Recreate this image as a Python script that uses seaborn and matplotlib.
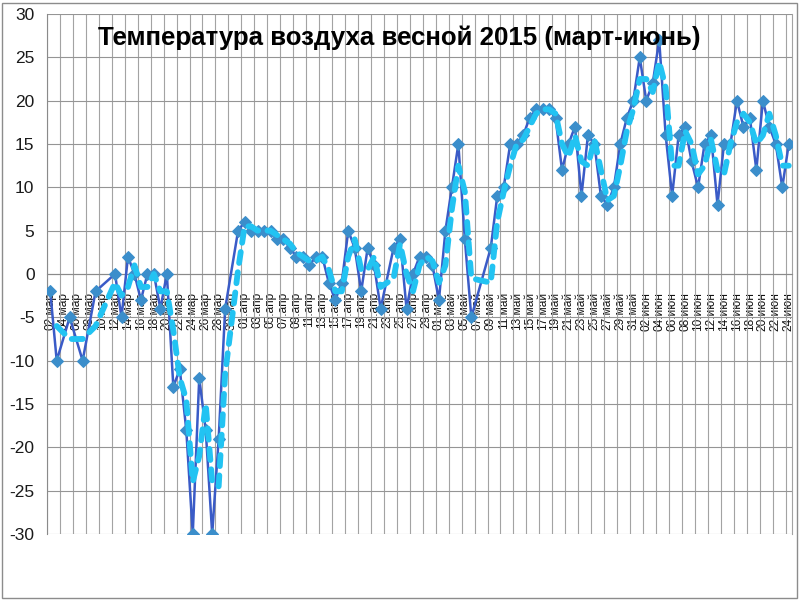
import numpy as np
import pandas as pd
import matplotlib
matplotlib.use("Agg")
import matplotlib.pyplot as plt
import matplotlib.dates as mdates
from matplotlib import font_manager as fm
from matplotlib.patches import Rectangle
from matplotlib.ticker import FixedLocator
import seaborn as sns

# ---------------- data ----------------
mar_days = [2, 3, 5, 7, 9, 12, 13, 14, 15, 16, 17, 18, 19, 20, 21, 22, 23, 24, 25, 26, 27, 28, 29, 31]
mar_temps = [-2, -10, -5, -10, -2, 0, -5, 2, 0, -3, 0, 0, -4, 0, -13, -11, -18, -30, -12, -18, -30, -19, -4, 5]

apr_days = [1, 2, 3, 4, 5, 6, 7, 8, 9, 10, 11, 12, 13, 14, 15, 16, 17, 18, 19, 20, 21, 22, 24, 25, 26, 27, 28, 29, 30]
apr_temps = [6, 5, 5, 5, 5, 4, 4, 3, 2, 2, 1, 2, 2, -1, -3, -1, 5, 3, -2, 3, 1, -4, 3, 4, -4, 0, 2, 2, 1]

may_days = [1, 2, 3, 4, 5, 6, 9, 10, 11, 12, 13, 14, 15, 16, 17, 18, 19, 20, 21, 22, 23, 24, 25, 26, 27, 28, 29, 30, 31]
may_temps = [-3, 5, 10, 15, 4, -5, 3, 9, 10, 15, 15, 16, 18, 19, 19, 19, 18, 12, 15, 17, 9, 16, 15, 9, 8, 10, 15, 18, 20]

jun_days = [1, 2, 3, 4, 5, 6, 7, 8, 9, 10, 11, 12, 13, 14, 15, 16, 17, 18, 19, 20, 21, 22, 23, 24]
jun_temps = [25, 20, 22, 27, 16, 9, 16, 17, 13, 10, 15, 16, 8, 15, 15, 20, 17, 18, 12, 20, 17, 15, 10, 15]

month_abbr = {3: "мар", 4: "апр", 5: "май", 6: "июн"}
tick_dates = pd.date_range("2015-03-02", "2015-06-24", freq="2D")
tick_labels = [f"{d.day:02d}.{month_abbr[d.month]}" for d in tick_dates]
y_ticks = list(range(-30, 31, 5))
title_text = "Температура воздуха весной 2015 (март-июнь)"

# ---------------- build table ----------------
rows = []
for m, days, temps in [(3, mar_days, mar_temps), (4, apr_days, apr_temps),
                       (5, may_days, may_temps), (6, jun_days, jun_temps)]:
    for d, t in zip(days, temps):
        rows.append((pd.Timestamp(2015, m, d), t))
df = pd.DataFrame(rows, columns=["date", "temp"])
# Excel-style 2-period moving-average trendline of the series
df["ma"] = df["temp"].rolling(2).mean()

# ---------------- style ----------------
sns.set_theme(style="white")
avail = {f.name for f in fm.fontManager.ttflist}
if "Liberation Sans Narrow" in avail:
    base_font = "Liberation Sans Narrow"
elif "Liberation Sans" in avail:
    base_font = "Liberation Sans"
else:
    base_font = "DejaVu Sans"
plt.rcParams["font.family"] = [base_font, "DejaVu Sans"]

fig = plt.figure(figsize=(8, 6), dpi=100, facecolor="white")
ax = fig.add_axes([47 / 800, 66 / 600, 745 / 800, 520 / 600])
ax.set_facecolor("white")

sns.lineplot(data=df, x="date", y="temp", ax=ax, color="#3A5BC7", linewidth=1.8,
             marker="D", markersize=6.5, markerfacecolor="#3B8ECB",
             markeredgecolor="#3B8ECB", zorder=3)
sns.lineplot(data=df.dropna(), x="date", y="ma", ax=ax, color="#22C3F2",
             linewidth=4.2, linestyle=(0, (1.9, 1.6)), dash_capstyle="round",
             zorder=4)

# ---------------- axes ----------------
tick_num = mdates.date2num(tick_dates.to_pydatetime())
x0 = mdates.date2num(pd.Timestamp("2015-03-02").to_pydatetime()) - 0.5
x1 = mdates.date2num(pd.Timestamp("2015-06-24").to_pydatetime()) + 0.5
ax.set_xlim(x0, x1)
ax.set_ylim(-30, 30)

ax.xaxis.set_major_locator(FixedLocator(tick_num))
ax.xaxis.set_minor_locator(FixedLocator(tick_num - 0.5))
ax.set_xticklabels(tick_labels)
ax.set_yticks(y_ticks)
ax.set_yticklabels([str(v) for v in y_ticks])
ax.set_xlabel("")
ax.set_ylabel("")

ax.grid(False)
ax.grid(which="minor", axis="x", color="#a3a3a3", linewidth=0.8)
ax.grid(which="major", axis="y", color="#959595", linewidth=0.8)
ax.set_axisbelow(True)

ax.spines["top"].set_visible(False)
ax.spines["left"].set_color("#8a8a8a")
ax.spines["left"].set_linewidth(0.8)
ax.spines["right"].set_color("#a3a3a3")
ax.spines["right"].set_linewidth(0.8)
ax.spines["bottom"].set_position(("data", 0))
ax.spines["bottom"].set_color("#8a8a8a")
ax.spines["bottom"].set_linewidth(0.8)

ax.tick_params(axis="x", which="both", length=0, pad=13, labelsize=8.6,
               labelcolor="#111111", rotation=90)
ax.tick_params(axis="y", which="both", length=0, pad=9, labelsize=12.5,
               labelcolor="#1a1a1a")
for lab in ax.get_xticklabels():
    lab.set_verticalalignment("top")
    lab.set_horizontalalignment("center")

# title inside the plot
title = fig.text(399.5 / 800, 1 - 38 / 600, title_text, ha="center", va="center",
                 fontsize=22, fontweight="bold", color="black")

# chart border
fig.patches.append(Rectangle((2 / 800, 2 / 600), 795 / 800, 595 / 600,
                             transform=fig.transFigure, fill=False,
                             edgecolor="#8c8c8c", linewidth=1))

# fit title width to the reference (about 605 px)
fig.canvas.draw()
w = title.get_window_extent().width
if w > 0:
    title.set_fontsize(22 * 605 / w)

fig.savefig("out.png", dpi=100, facecolor="white")
